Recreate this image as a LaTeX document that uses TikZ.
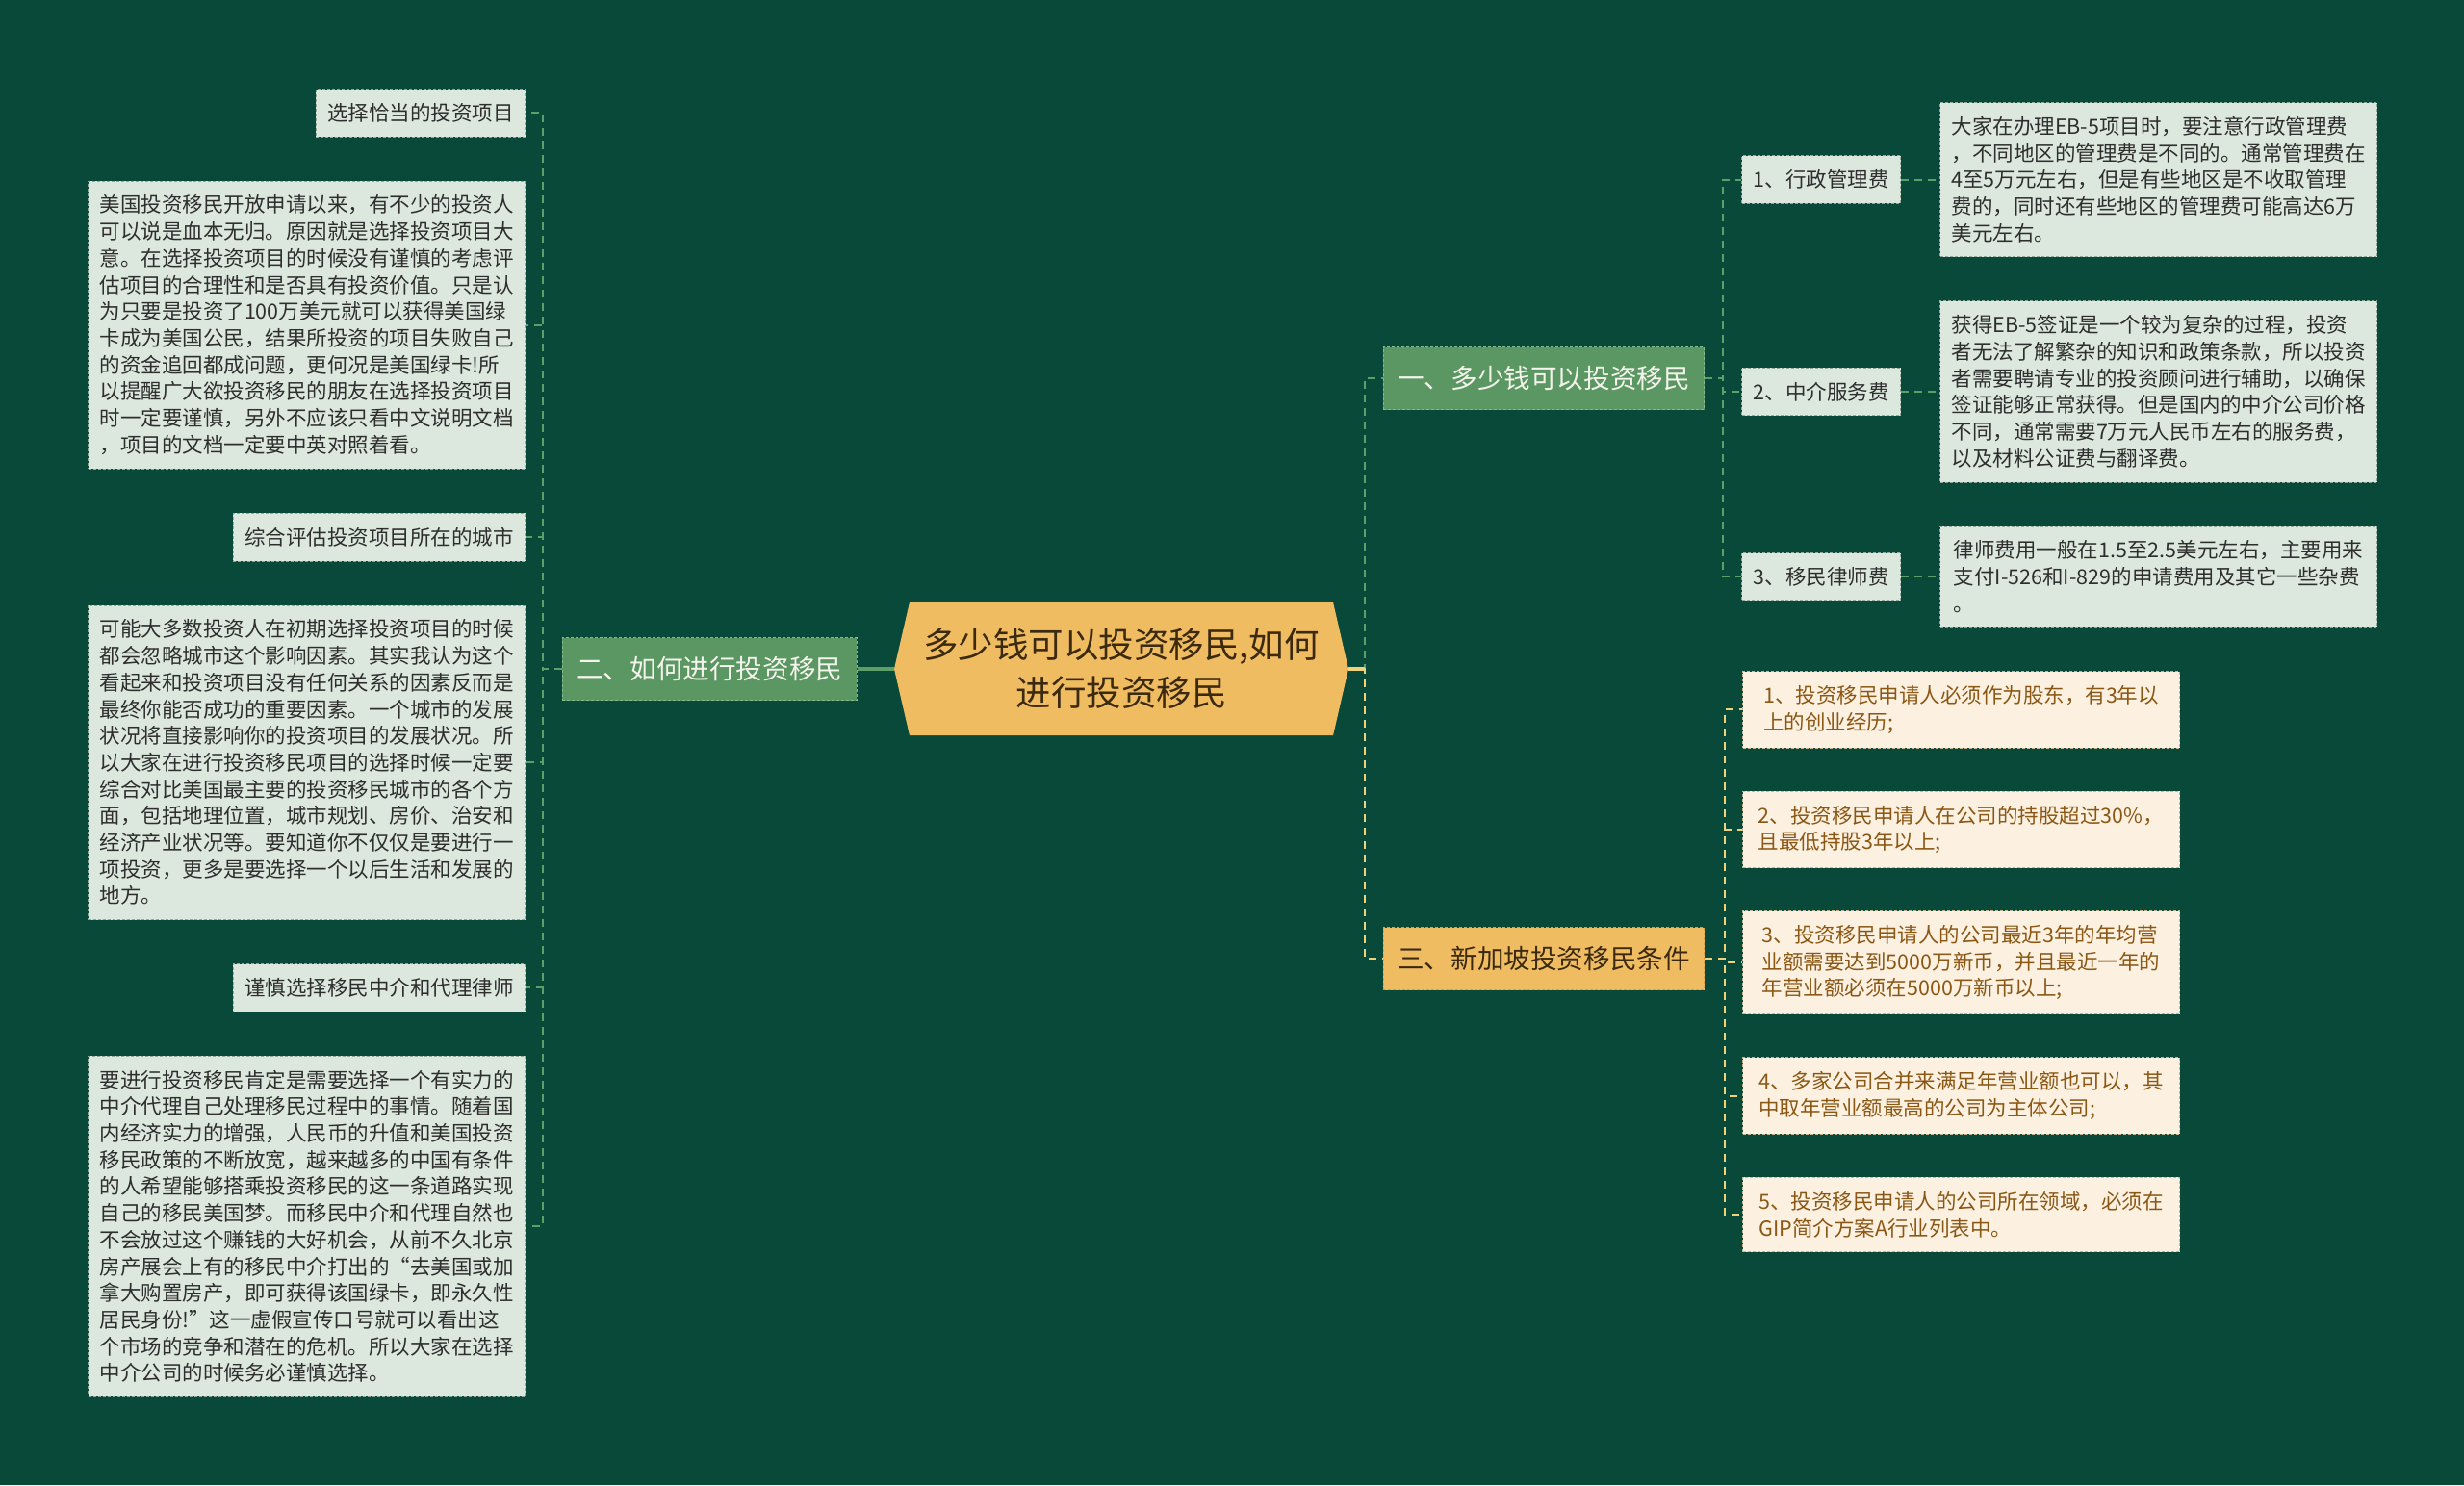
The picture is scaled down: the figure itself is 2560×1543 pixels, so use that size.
\documentclass[tikz,border=0pt]{standalone}
\usepackage{fontspec}
\setmainfont{Noto Sans CJK SC}
\usetikzlibrary{positioning,shapes.symbols}
\definecolor{bgcol}{HTML}{094939}
\definecolor{notefill}{HTML}{DCE8DE}
\definecolor{noteedge}{HTML}{93A89A}
\definecolor{notetext}{HTML}{2E2E2E}
\definecolor{greenfill}{HTML}{5B9763}
\definecolor{greenedge}{HTML}{86BA8C}
\definecolor{greentext}{HTML}{F4F4EC}
\definecolor{orangefill}{HTML}{F0BC62}
\definecolor{orangeedge}{HTML}{D9A24A}
\definecolor{orangetext}{HTML}{3B2A10}
\definecolor{creamfill}{HTML}{FCF1E1}
\definecolor{creamedge}{HTML}{C8B593}
\definecolor{creamtext}{HTML}{8B5714}
\definecolor{gcol}{HTML}{5E9E68}
\definecolor{ycol}{HTML}{EFD27A}

\begin{document}
\begin{tikzpicture}[x=1pt, y=-1pt,
  note/.style={fill=notefill, draw=noteedge, dash pattern=on 3pt off 2pt, line width=1pt, text=notetext, align=left, font=\fontsize{21.5pt}{27.7pt}\selectfont, inner xsep=12pt, inner ysep=14.8pt},
  wide/.style={note, minimum width=454pt},
  cond/.style={wide, fill=creamfill, draw=creamedge, text=creamtext},
  branch/.style={fill=greenfill, draw=greenedge, dash pattern=on 3pt off 2pt, line width=1pt, text=greentext, font=\fontsize{27.6pt}{33pt}\selectfont, inner xsep=15pt, minimum height=65pt},
  root/.style={signal, signal to=east and west, signal pointer angle=154, fill=orangefill, text=orangetext, align=center, font=\fontsize{36.5pt}{50pt}\selectfont, minimum width=472pt, minimum height=138pt},
  gline/.style={draw=gcol, line width=2.2pt, dash pattern=on 8pt off 6pt},
  yline/.style={draw=ycol, line width=2.2pt, dash pattern=on 8pt off 6pt}
]
\fill[bgcol] (0,0) rectangle (2560,1543);

\node[root] (root) at (1165,695) {多少钱可以投资移民,如何\\进行投资移民};
\node[branch, left=38pt of root] (b2) {二、如何进行投资移民};
\node[branch] (b1) at (1604,393) {一、多少钱可以投资移民};
\node[branch, fill=orangefill, draw=orangeedge, text=orangetext] (b3) at (1604,996) {三、新加坡投资移民条件};

\node[note, anchor=north east] (l1) at (546,92) {选择恰当的投资项目};
\node[wide, below=45pt of l1.south east, anchor=north east] (l2) {美国投资移民开放申请以来，有不少的投资人\\可以说是血本无归。原因就是选择投资项目大\\意。在选择投资项目的时候没有谨慎的考虑评\\估项目的合理性和是否具有投资价值。只是认\\为只要是投资了100万美元就可以获得美国绿\\卡成为美国公民，结果所投资的项目失败自己\\的资金追回都成问题，更何况是美国绿卡!所\\以提醒广大欲投资移民的朋友在选择投资项目\\时一定要谨慎，另外不应该只看中文说明文档\\，项目的文档一定要中英对照着看。};
\node[note, below=45pt of l2.south east, anchor=north east] (l3) {综合评估投资项目所在的城市};
\node[wide, below=45pt of l3.south east, anchor=north east] (l4) {可能大多数投资人在初期选择投资项目的时候\\都会忽略城市这个影响因素。其实我认为这个\\看起来和投资项目没有任何关系的因素反而是\\最终你能否成功的重要因素。一个城市的发展\\状况将直接影响你的投资项目的发展状况。所\\以大家在进行投资移民项目的选择时候一定要\\综合对比美国最主要的投资移民城市的各个方\\面，包括地理位置，城市规划、房价、治安和\\经济产业状况等。要知道你不仅仅是要进行一\\项投资，更多是要选择一个以后生活和发展的\\地方。};
\node[note, below=45pt of l4.south east, anchor=north east] (l5) {谨慎选择移民中介和代理律师};
\node[wide, below=45pt of l5.south east, anchor=north east] (l6) {要进行投资移民肯定是需要选择一个有实力的\\中介代理自己处理移民过程中的事情。随着国\\内经济实力的增强，人民币的升值和美国投资\\移民政策的不断放宽，越来越多的中国有条件\\的人希望能够搭乘投资移民的这一条道路实现\\自己的移民美国梦。而移民中介和代理自然也\\不会放过这个赚钱的大好机会，从前不久北京\\房产展会上有的移民中介打出的“去美国或加\\拿大购置房产，即可获得该国绿卡，即永久性\\居民身份!”这一虚假宣传口号就可以看出这\\个市场的竞争和潜在的危机。所以大家在选择\\中介公司的时候务必谨慎选择。};

\node[wide, anchor=north west] (t1) at (2015,106) {大家在办理EB-5项目时，要注意行政管理费\\，不同地区的管理费是不同的。通常管理费在\\4至5万元左右，但是有些地区是不收取管理\\费的，同时还有些地区的管理费可能高达6万\\美元左右。};
\node[wide, below=45pt of t1.south west, anchor=north west] (t2) {获得EB-5签证是一个较为复杂的过程，投资\\者无法了解繁杂的知识和政策条款，所以投资\\者需要聘请专业的投资顾问进行辅助，以确保\\签证能够正常获得。但是国内的中介公司价格\\不同，通常需要7万元人民币左右的服务费，\\以及材料公证费与翻译费。};
\node[wide, below=45pt of t2.south west, anchor=north west] (t3) {律师费用一般在1.5至2.5美元左右，主要用来\\支付I-526和I-829的申请费用及其它一些杂费\\。};
\node[note, left=40pt of t1] (r1) {1、行政管理费};
\node[note, left=40pt of t2] (r2) {2、中介服务费};
\node[note, left=40pt of t3] (r3) {3、移民律师费};

\node[cond, anchor=north west] (k1) at (1810,697) {1、投资移民申请人必须作为股东，有3年以\\上的创业经历;};
\node[cond, below=44pt of k1.south west, anchor=north west] (k2) {2、投资移民申请人在公司的持股超过30\%，\\且最低持股3年以上;};
\node[cond, below=44pt of k2.south west, anchor=north west] (k3) {3、投资移民申请人的公司最近3年的年均营\\业额需要达到5000万新币，并且最近一年的\\年营业额必须在5000万新币以上;};
\node[cond, below=44pt of k3.south west, anchor=north west] (k4) {4、多家公司合并来满足年营业额也可以，其\\中取年营业额最高的公司为主体公司;};
\node[cond, below=44pt of k4.south west, anchor=north west] (k5) {5、投资移民申请人的公司所在领域，必须在\\GIP简介方案A行业列表中。};

\draw[gline, solid, line width=4pt] (b2.east) -- (root.west);
\draw[gline] (b2.west) -- ++(-20,0) |- (l1.east);
\draw[gline] (b2.west) -- ++(-20,0) |- (l2.east);
\draw[gline] (b2.west) -- ++(-20,0) |- (l3.east);
\draw[gline] (b2.west) -- ++(-20,0) |- (l4.east);
\draw[gline] (b2.west) -- ++(-20,0) |- (l5.east);
\draw[gline] (b2.west) -- ++(-20,0) |- (l6.east);

\draw[gline] (root.east) -- ++(17,0) |- (b1.west);
\draw[yline] (root.east) -- ++(17,0) |- (b3.west);
\draw[yline, solid, line width=4pt] (root.east) -- ++(17,0);

\draw[gline] (b1.east) -- ++(19,0) |- (r1.west);
\draw[gline] (b1.east) -- ++(19,0) |- (r2.west);
\draw[gline] (b1.east) -- ++(19,0) |- (r3.west);
\draw[gline] (r1) -- (t1);
\draw[gline] (r2) -- (t2);
\draw[gline] (r3) -- (t3);

\draw[yline] (b3.east) -- ++(21,0) |- (k1.west);
\draw[yline] (b3.east) -- ++(21,0) |- (k2.west);
\draw[yline] (b3.east) -- ++(21,0) |- (k3.west);
\draw[yline] (b3.east) -- ++(21,0) |- (k4.west);
\draw[yline] (b3.east) -- ++(21,0) |- (k5.west);
\end{tikzpicture}
\end{document}
